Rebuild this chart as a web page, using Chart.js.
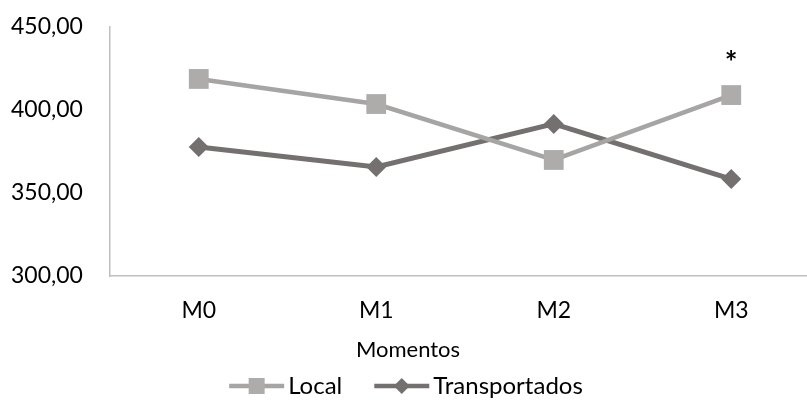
<!DOCTYPE html>
<html>
<head>
<meta charset="utf-8">
<script src="https://cdn.jsdelivr.net/npm/chart.js@4/dist/chart.umd.min.js"></script>
<style>
    html, body { margin: 0; padding: 0; background: #fff; overflow: hidden; }
    #wrap { width: 834px; height: 401px; }
</style>
</head>
<body>
<div id="wrap"><canvas id="chart" width="834" height="401"></canvas></div>
<script>
// Data
const categories = ['M0', 'M1', 'M2', 'M3'];
const localValues = [418.7, 403.6, 369.9, 409.0];
const transportadosValues = [377.7, 365.7, 391.6, 358.4];
const yTicks = [300, 350, 400, 450];
const localMarks = ['', '', '', '*'];
const xTitle = 'Momentos';

const localColor = '#a7a4a4';
const localMarker = '#aeabab';
const transColor = '#747070';
const axisColor = '#c0c0c0';
const fontFamily = 'Lato, "Open Sans", sans-serif';

function drawMarker(ctx, style, x, y, color, r) {
    ctx.fillStyle = color;
    ctx.beginPath();
    if (style === 'rect') {
        ctx.rect(x - r, y - r, 2 * r, 2 * r);
    } else {
        ctx.moveTo(x, y - r);
        ctx.lineTo(x + r, y);
        ctx.lineTo(x, y + r);
        ctx.lineTo(x - r, y);
        ctx.closePath();
    }
    ctx.fill();
}

// asterisk, axis title and legend, drawn like the Excel original
const extras = {
    id: 'extras',
    afterDatasetsDraw(chart) {
        const ctx = chart.ctx;
        const meta = chart.getDatasetMeta(0);
        ctx.save();
        ctx.fillStyle = '#000';
        ctx.font = 'bold 30px ' + fontFamily;
        ctx.textAlign = 'center';
        ctx.textBaseline = 'alphabetic';
        localMarks.forEach((m, i) => {
            if (!m) return;
            const p = meta.data[i];
            ctx.fillText(m, p.x, p.y - 22);
        });

        // axis title
        ctx.font = '22px ' + fontFamily;
        ctx.textBaseline = 'middle';
        ctx.fillText(xTitle, 408, 350);

        // legend
        const items = [
            { label: chart.data.datasets[0].label, color: localColor, marker: localMarker, style: 'rect', r: 8 },
            { label: chart.data.datasets[1].label, color: transColor, marker: transColor, style: 'rectRot', r: 8 },
        ];
        ctx.font = '24px ' + fontFamily;
        const iconW = 55, gap = 4, itemGap = 32;
        let total = 0;
        items.forEach((it, i) => {
            it.w = ctx.measureText(it.label).width;
            total += iconW + gap + it.w + (i ? itemGap : 0);
        });
        let x = 406 - total / 2;
        const y = 386;
        items.forEach((it) => {
            ctx.strokeStyle = it.color;
            ctx.lineWidth = 4.5;
            ctx.beginPath();
            ctx.moveTo(x, y);
            ctx.lineTo(x + iconW, y);
            ctx.stroke();
            drawMarker(ctx, it.style, x + iconW / 2, y, it.marker, it.r);
            ctx.fillStyle = '#000';
            ctx.textAlign = 'left';
            ctx.fillText(it.label, x + iconW + gap, y);
            x += iconW + gap + it.w + itemGap;
        });
        ctx.restore();
    },
};

const ctx = document.getElementById('chart').getContext('2d');
new Chart(ctx, {
    type: 'line',
    data: {
        labels: categories,
        datasets: [
            {
                label: 'Local',
                data: localValues,
                borderColor: localColor,
                backgroundColor: localMarker,
                borderWidth: 4.5,
                pointStyle: 'rect',
                pointRadius: 14,
                pointBorderWidth: 0,
                pointBackgroundColor: localMarker,
                tension: 0,
            },
            {
                label: 'Transportados',
                data: transportadosValues,
                borderColor: transColor,
                backgroundColor: transColor,
                borderWidth: 5,
                pointStyle: 'rectRot',
                pointRadius: 10,
                pointBorderWidth: 0,
                pointBackgroundColor: transColor,
                tension: 0,
            },
        ],
    },
    options: {
        responsive: false,
        animation: false,
        layout: { padding: { top: 27, left: 11, right: 0, bottom: 0 } },
        plugins: {
            legend: { display: false },
            tooltip: { enabled: false },
        },
        scales: {
            x: {
                offset: true,
                grid: { display: false, drawTicks: false },
                border: { display: true, color: axisColor, width: 1.5 },
                ticks: {
                    color: '#000',
                    font: { family: fontFamily, size: 23 },
                    padding: 21,
                },
                afterFit: (scale) => { scale.height = 125; },
            },
            y: {
                min: yTicks[0],
                max: yTicks[yTicks.length - 1],
                afterBuildTicks: (scale) => { scale.ticks = yTicks.map((v) => ({ value: v })); },
                grid: { display: false, drawTicks: false },
                border: { display: true, color: axisColor, width: 1.5 },
                ticks: {
                    color: '#000',
                    font: { family: fontFamily, size: 23 },
                    padding: 0,
                    crossAlign: 'far',
                    callback: (v) => v.toFixed(2).replace('.', ','),
                },
                afterFit: (scale) => { scale.width = 99; },
            },
        },
    },
    plugins: [extras],
});
</script>
</body>
</html>
